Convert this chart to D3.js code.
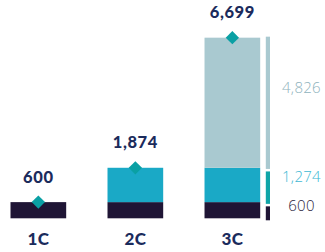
<!DOCTYPE html>
<html><head><meta charset="utf-8">
<script src="https://cdn.jsdelivr.net/npm/d3@7"></script>
<style>body{margin:0;background:#fff}svg{display:block}</style>
</head><body>
<script>
const categories = ["1C", "2C", "3C"];
const baseValues = [600, 600, 600];
const midValues = [0, 1274, 1274];
const topValues = [0, 0, 4826];
const totalLabels = ["600", "1,874", "6,699"];
const sideValues = [600, 1274, 4826];
const sideLabels = ["600", "1,274", "4,826"];

const W = 325, H = 252;
const colors = ["#1f1535", "#1aa9c6", "#a9c9d0"];
const sideColors = ["#1f1535", "#0fa5a8", "#a9c9d0"];
const sideLabelColors = ["#2b2540", "#3db8d4", "#8fb3bd"];
const sideLabelDy = [-6.4, -9.8, -15.2];
const navy = "#1b2b5c";

const svg = d3.select("body").append("svg").attr("width", W).attr("height", H);

const x = d3.scaleBand().domain(categories).range([10.5, 260.2]).paddingInner(0.426).paddingOuter(0);
const y = d3.scaleLinear().domain([0, 6699]).range([218.3, 37.7]);

const series = [baseValues, midValues, topValues];
const totals = categories.map((c, i) => series.reduce((s, a) => s + a[i], 0));
const cumAt = (si, i) => series.slice(0, si).reduce((s, a) => s + a[i], 0);

series.forEach((vals, si) => {
  svg.append("g").selectAll("rect").data(categories).join("rect")
    .attr("x", d => x(d))
    .attr("width", x.bandwidth())
    .attr("y", (d, i) => y(cumAt(si + 1, i)))
    .attr("height", (d, i) => y(cumAt(si, i)) - y(cumAt(si + 1, i)))
    .attr("fill", colors[si]);
});

// diamonds
svg.append("g").selectAll("rect").data(categories).join("rect")
  .attr("x", -4.7).attr("y", -4.7).attr("width", 9.4).attr("height", 9.4)
  .attr("transform", (d, i) => `translate(${x(d) + x.bandwidth() / 2},${y(totals[i])}) rotate(45)`)
  .attr("fill", "#0aa0a4");

// total labels
svg.append("g").selectAll("text").data(categories).join("text")
  .attr("x", d => x(d) + x.bandwidth() / 2)
  .attr("y", (d, i) => y(totals[i]) - 19.6)
  .attr("text-anchor", "middle")
  .attr("font-family", "Lato, 'Open Sans', sans-serif")
  .attr("font-weight", 900)
  .attr("font-size", 16.5)
  .attr("letter-spacing", 0.6)
  .attr("fill", navy)
  .text((d, i) => totalLabels[i]);

// category labels
svg.append("g").selectAll("text").data(categories).join("text")
  .attr("x", d => x(d) + x.bandwidth() / 2)
  .attr("y", 245)
  .attr("text-anchor", "middle")
  .attr("font-family", "Lato, 'Open Sans', sans-serif")
  .attr("font-weight", 900)
  .attr("font-size", 17)
  .attr("letter-spacing", 0.4)
  .attr("fill", navy)
  .text(d => d);

// side breakdown bar
const ys = d3.scaleLinear().domain([0, 6699]).range([220.3, 36.7]);
const gap = 2.5;
let cum = 0;
const segs = sideValues.map((v, i) => { const s = { start: cum, end: cum + v, i }; cum += v; return s; });
svg.append("g").selectAll("rect").data(segs).join("rect")
  .attr("x", 265.8).attr("width", 4.2)
  .attr("y", d => ys(d.end) + (d.i < segs.length - 1 ? gap : 0))
  .attr("height", d => ys(d.start) - ys(d.end) - (d.i < segs.length - 1 ? gap : 0))
  .attr("fill", d => sideColors[d.i]);

svg.append("g").selectAll("text").data(segs).join("text")
  .attr("x", 301.5)
  .attr("y", d => (ys(d.start) + ys(d.end)) / 2 + 5 + sideLabelDy[d.i])
  .attr("text-anchor", "middle")
  .attr("font-family", "'Open Sans', Lato, sans-serif")
  .attr("font-weight", 300)
  .attr("font-size", 15)
  .attr("letter-spacing", 0.3)
  .attr("fill", d => sideLabelColors[d.i])
  .text(d => sideLabels[d.i]);
</script>
</body></html>
